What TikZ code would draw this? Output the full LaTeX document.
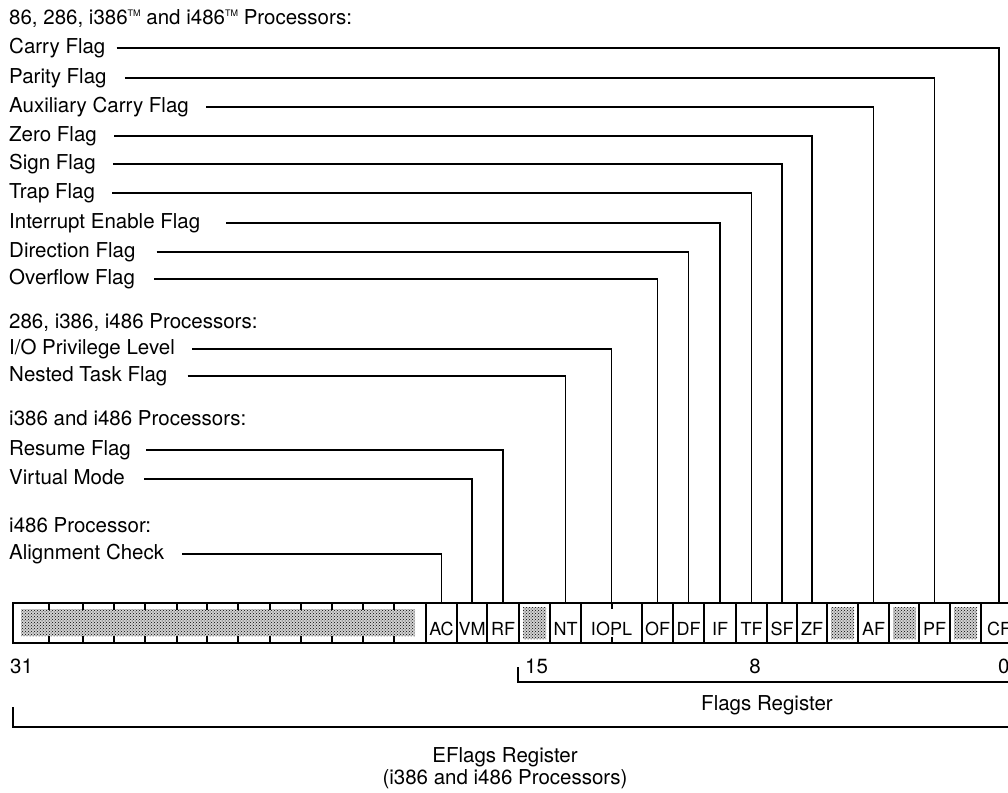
\documentclass[tikz,border=0pt]{standalone}
\usepackage{fontspec}
\setmainfont{TeX Gyre Heros}
\usetikzlibrary{patterns}

\begin{document}
\begin{tikzpicture}[x=1pt,y=-1pt,
  txt/.style={inner sep=0pt, font=\fontsize{20.5}{24}\selectfont},
  lbl/.style={txt, anchor=base west, text height=15pt, text depth=4.5pt},
  hdr/.style={txt, anchor=base west},
  num/.style={txt, anchor=base west},
  captxt/.style={txt, anchor=base},
  cell/.style={rectangle, inner sep=0pt, minimum height=40pt, text height=24pt, text depth=0pt, font=\fontsize{18}{20}\selectfont},
  conn/.style={line width=1.1pt},
  frame/.style={line width=1.8pt},
  divider/.style={line width=1.1pt},
  bracket/.style={line width=1.4pt},
  shadebase/.style={fill=black!18},
  shade/.style={pattern=crosshatch dots, pattern color=black},
]
\useasboundingbox (0,0) rectangle (1008,792);
\clip (0,0) rectangle (1008,792);

% ---------- headers ----------
\node[hdr] (h1) at (9,25) {86, 286, i386\raisebox{8pt}{\fontsize{9}{9}\selectfont TM} and i486\raisebox{8pt}{\fontsize{9}{9}\selectfont TM} Processors:};
\node[hdr] (h2) at (9,328) {286, i386, i486 Processors:};
\node[hdr] (h3) at (9,425) {i386 and i486 Processors:};
\node[hdr] (h4) at (9,532) {i486 Processor:};

% ---------- register cells ----------
\foreach \n/\l/\r/\t in {AC/426/457/AC, VM/457/487/VM, RF/487/519/RF, NT/550/581/NT,
    IOPL/581/642/IOPL, OF/642/673/OF, DF/673/704/DF, IF/704/736/IF, TF/736/767/TF,
    SF/767/797/SF, ZF/797/827/ZF, AF/858/889/AF, PF/919/950/PF, CF/981/1017/CF}
  \node[cell, minimum width={(\r-\l)*1pt}] (\n) at ({(\l+\r)/2},623) {\t};

% shaded reserved areas
\fill[shadebase] (21,609) rectangle (415,636);
\fill[shade] (21,609) rectangle (415,636);
\foreach \l in {519,827,889,950} {
  \fill[shadebase] ({\l+4},607) rectangle ({\l+27},639);
  \fill[shade] ({\l+4},607) rectangle ({\l+27},639);
}

% dividers
\foreach \x in {426,457,487,519,550,581,642,673,704,736,767,797,827,858,889,919,950,981}
  \draw[divider] (\x,603) -- (\x,643);
\foreach \x in {49,83,114,145,177,207,238,270,301,332,363,394} {
  \draw[divider] (\x,603) -- (\x,610);
  \draw[divider] (\x,636) -- (\x,643);
}
\draw[divider] (612,603) -- (612,609);
\draw[divider] (612,637) -- (612,643);

% outer frame
\draw[frame] (13,603) rectangle (1016,643);

% ---------- flag labels and connectors ----------
\foreach \n/\y/\g/\t in {
    CF/48/11/{Carry Flag},
    PF/78/18/{Parity Flag},
    AF/107/17/{Auxiliary Carry Flag},
    ZF/136/17/{Zero Flag},
    SF/164/17/{Sign Flag},
    TF/193/17/{Trap Flag},
    IF/223/26/{Interrupt Enable Flag},
    DF/252/21/{Direction Flag},
    OF/279/19/{Overflow Flag},
    IOPL/349/17/{I/O Privilege Level},
    NT/376/20/{Nested Task Flag},
    RF/450/15/{Resume Flag},
    VM/479/19/{Virtual Mode},
    AC/554/18/{Alignment Check}} {
  \node[lbl] (l\n) at (9,{\y+5.25}) {\t};
  \draw[conn] (l\n.east) ++(\g,0) -| (\n.north);
}

% ---------- bit numbers and brackets ----------
\node[num] (b31) at (10,673) {31};
\node[num] (b15) at (525,673) {15};
\node[captxt] (b8) at (755,673) {8};
\node[num] (b0) at (998,673) {0};

\coordinate (fl0) at (518,667);
\coordinate (fl1) at (1010,682);
\draw[bracket] (fl0) |- (fl1);
\node[captxt] (flags) at (767,710) {Flags Register};

\coordinate (ef0) at (13,707);
\coordinate (ef1) at (1010,727);
\draw[bracket] (ef0) |- (ef1);
\node[captxt] (ef) at (505,762) {EFlags Register};
\node[captxt] (ef2) at (505,784) {(i386 and i486 Processors)};
\end{tikzpicture}
\end{document}
